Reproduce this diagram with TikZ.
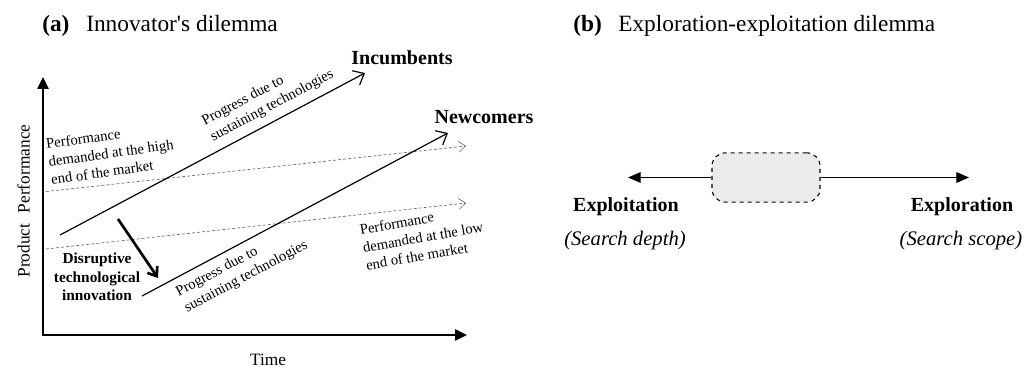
\documentclass[tikz,border=0pt]{standalone}
\usepackage{fontspec}
\setmainfont{Liberation Serif}[Ligatures=TeXOff]
\usetikzlibrary{arrows.meta}
\begin{document}
\begin{tikzpicture}[x=0.75pt,y=-0.75pt,
  titletext/.style={font=\fontsize{17.5pt}{20pt}\selectfont, inner sep=0pt, anchor=base west},
  bigbold/.style={font=\fontsize{15pt}{18pt}\selectfont\bfseries, inner sep=0pt, anchor=base},
  italtext/.style={font=\fontsize{15.5pt}{18pt}\selectfont\itshape, inner sep=0pt, anchor=base},
  smalltext/.style={font=\fontsize{11pt}{13.5pt}\selectfont, inner sep=0pt, align=left},
  axislabel/.style={font=\fontsize{13pt}{15pt}\selectfont, inner sep=0pt},
  disrupt/.style={font=\fontsize{11.5pt}{14pt}\selectfont\bfseries, inner sep=0pt, align=center},
  axisline/.style={line width=1.1pt, {Triangle[length=9pt,width=8.5pt]}-{Triangle[length=9pt,width=8.5pt]}},
  trend/.style={line width=0.9pt, -{Straight Barb[length=7pt,width=12pt]}},
  demand/.style={line width=0.5pt, draw=black!60, dash pattern=on 2.2pt off 1.6pt, -{Straight Barb[length=5pt,width=8pt]}},
  bigarrow/.style={line width=2pt, -{Straight Barb[length=6pt,width=9pt]}},
  link/.style={line width=0.9pt, -{Triangle[length=9.5pt,width=8pt]}},
  middlebox/.style={draw, dashed, line width=0.8pt, fill=gray!16, rounded corners=10pt, minimum width=81pt, minimum height=37pt}
]
\useasboundingbox (0,0) rectangle (1034,377);

% titles
\node[titletext, font=\fontsize{17.5pt}{20pt}\selectfont\bfseries] (ta) at (42,32) {(a)};
\node[titletext] (tat) at (86,32) {Innovator's dilemma};
\node[titletext, font=\fontsize{17.5pt}{20pt}\selectfont\bfseries] (tb) at (573,32) {(b)};
\node[titletext] (tbt) at (618,32) {Exploration-exploitation dilemma};

% axes
\coordinate (O) at (43,335);
\coordinate (ytip) at (43,77);
\coordinate (xtip) at (467,335);
\draw[axisline] (ytip) -- (O) -- (xtip);
\node[axislabel, rotate=90] (ylab) at (23.5,201) {Product\hspace{0.6em}Performance};
\node[axislabel, anchor=base] (time) at (268,365) {Time};

% demand lines
\coordinate (h1) at (46,191.5);
\coordinate (h2) at (466,146);
\coordinate (l1) at (46,249);
\coordinate (l2) at (466,203);
\draw[demand] (h1) -- (h2);
\draw[demand] (l1) -- (l2);

% trend arrows
\coordinate (i1) at (60,235);
\coordinate (i2) at (365,73);
\coordinate (n1) at (142,296);
\coordinate (n2) at (448,133);
\draw[trend] (i1) -- (i2);
\draw[trend] (n1) -- (n2);

% disruptive arrow
\coordinate (d1) at (118,219);
\coordinate (d2) at (158,278);
\draw[bigarrow] (d1) -- (d2);

% labels
\node[bigbold] (inc) at (402,65) {Incumbents};
\node[bigbold] (new) at (484,124) {Newcomers};
\node[smalltext, rotate=28] (pu) at (268,98) {Progress due to\\sustaining technologies};
\node[smalltext, rotate=28] (pl) at (242,269) {Progress due to\\sustaining technologies};
\node[smalltext, rotate=8] (ph) at (111,153) {Performance\\demanded at the high\\end of the market};
\node[smalltext, rotate=10] (plow) at (423,237) {Performance\\demanded at the low\\end of the market};
\node[disrupt] (dis) at (97,277) {Disruptive\\technological\\innovation};

% panel b
\node[middlebox] (box) at (766,177.5) {};
\coordinate (lt) at (628,177.5);
\coordinate (rt) at (969,177.5);
\draw[link] (box.west) -- (lt);
\draw[link] (box.east) -- (rt);
\node[bigbold] (xpt) at (626,212) {Exploitation};
\node[italtext] (sd) at (625,246) {(Search depth)};
\node[bigbold] (xpr) at (962,212) {Exploration};
\node[italtext] (ss) at (961,246) {(Search scope)};
\end{tikzpicture}
\end{document}
